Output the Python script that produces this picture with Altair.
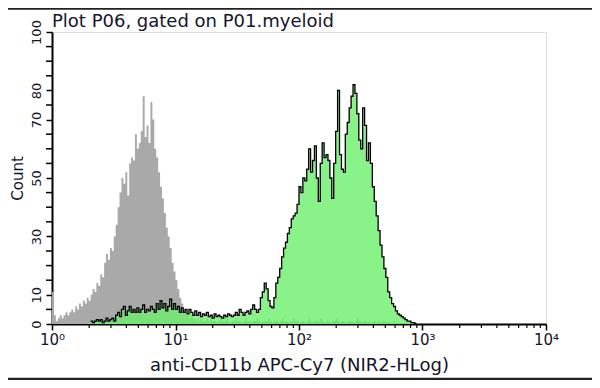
import altair as alt
import pandas as pd

# ---- data (counts per channel, 64 channels per decade) ----
CH_PER_DECADE = 64
gray_start = 0
gray_counts = [11, 3, 1, 2, 3, 2, 3, 4, 3, 4, 5, 4, 6, 5, 7, 6, 8, 7, 9, 8,
               10, 12, 11, 14, 13, 17, 16, 21, 24, 22, 26, 25, 30, 34, 40, 45, 50, 48, 52, 44,
               55, 57, 56, 65, 60, 62, 66, 78, 64, 68, 62, 76, 70, 60, 57, 52, 47, 43, 38, 33,
               30, 26, 21, 18, 15, 12, 9, 7, 5, 4, 3,
               2, 3, 2, 1, 2, 1, 2, 1, 1, 2, 1, 2, 1, 1, 0, 1, 2, 1, 1, 2,
               1, 0, 1, 1, 2, 1, 1, 0, 1, 2, 1, 1, 0, 1, 1, 2, 1, 0, 1, 1,
               1, 2, 1, 0, 1, 1, 0, 1, 2, 1, 1, 0, 1, 1, 2, 1, 1, 0, 1, 1,
               0, 1, 2, 1, 0, 1, 1, 1, 2, 1, 0, 1, 1, 0, 1, 1, 2, 1, 0, 1,
               1, 0, 1, 1, 1, 0, 1, 2, 1, 0, 1, 1, 0, 1, 0, 1, 1, 0, 1, 0,
               1, 1, 0, 1, 0, 0, 1, 0, 0, 0]
green_start = 20
green_counts = [1, 0.5, 1, 1.5, 1, 1.5, 0.5, 1, 2, 1, 1.5, 2, 1, 3, 4, 2.5, 5, 6, 3, 4.5,
                6, 4, 5, 4, 5.5, 4, 5, 6.5, 4, 5, 4.5, 6, 5, 4, 7, 5, 8, 5.5, 7, 4.5,
                6, 8.5, 5, 7, 5, 6, 4, 5.5, 4, 5, 3.5, 5, 4, 3, 4.5, 3, 4, 2.5, 3.5, 3,
                4, 2.5, 3, 2, 3.5, 2.5, 3, 2.5, 2, 3, 2.5, 3.5, 3, 2.5, 3, 4, 3, 5, 4, 3,
                4, 4.5, 3.5, 5, 6.5, 5, 4, 5, 9, 11, 14, 12, 8, 6, 5.5, 9, 14, 16, 19, 23,
                26, 28, 31, 33, 36, 37, 38, 41, 47, 45, 50, 49, 53, 60, 52, 56, 61, 50, 42, 55,
                62, 57, 58, 56, 50, 43, 55, 66, 80, 58, 53, 52, 65, 69, 74, 78, 82, 79, 72, 63,
                60, 74, 68, 56, 62, 55, 47, 42, 37, 32, 27, 23, 19, 16, 11, 9, 7, 6, 4.5, 3.5,
                3, 2.5, 2, 1.5, 1, 1, 0.5, 0.5, 0]

x_tick_values = [1, 10, 100, 1000, 10000]
x_tick_labels = ["10⁰", "10¹", "10²", "10³", "10⁴"]
x_minor_ticks = [m * d for d in [1, 10, 100, 1000] for m in range(2, 10)]
y_labelled = [0, 10, 30, 50, 70, 80, 100]
y_minor_ticks = [v for v in range(0, 101, 5) if v not in y_labelled]

title_text = "Plot P06, gated on P01.myeloid"
x_title = "anti-CD11b APC-Cy7 (NIR2-HLog)"
y_title = "Count"


def hist_frame(start, counts):
    rows = []
    for i, c in enumerate(counts):
        rows.append({"x": 10 ** ((start + i) / CH_PER_DECADE), "count": c})
    rows.append({"x": 10 ** ((start + len(counts)) / CH_PER_DECADE), "count": 0})
    return pd.DataFrame(rows)


gray_df = hist_frame(gray_start, gray_counts)
green_df = hist_frame(green_start, green_counts)

FONT = "DejaVu Sans"
TXT = "#15152a"
W, H = 494, 292

x_label_expr = " : ".join(
    f"datum.value == {v} ? '{l}'" for v, l in zip(x_tick_values, x_tick_labels)) + " : ''"

xscale = alt.Scale(type="log", domain=[1, 10000], nice=False)
yscale = alt.Scale(domain=[0, 100], nice=False)

x_enc = alt.X("x:Q", scale=xscale, axis=alt.Axis(
    values=x_tick_values, labelExpr=x_label_expr, title=x_title,
    tickSize=6, tickWidth=1.5, tickColor="black", domainWidth=2, domainColor="black",
    labelFont=FONT, labelFontSize=15, labelColor=TXT, labelPadding=2, labelFlush=False,
    labelOverlap=False,
    titleFont=FONT, titleFontSize=18, titleFontWeight="normal", titleColor=TXT, titlePadding=9,
    grid=False))
y_enc = alt.Y("count:Q", scale=yscale, axis=alt.Axis(
    values=y_labelled, title=y_title,
    tickSize=6, tickWidth=1.5, tickColor="black", domainWidth=2, domainColor="black",
    labelFont=FONT, labelFontSize=13, labelColor=TXT, labelAngle=270,
    labelAlign="center", labelBaseline="bottom", labelPadding=3, labelFlush=False,
    labelOverlap=False, labelSeparation=0,
    titleFont=FONT, titleFontSize=15, titleFontWeight="normal", titleColor=TXT, titlePadding=5,
    grid=False))

gray = alt.Chart(gray_df).mark_area(interpolate="step-after", color="#a9a9a9").encode(
    x=x_enc, y=y_enc)
green = alt.Chart(green_df).mark_area(interpolate="step-after", color="#6cef6c", opacity=0.8).encode(
    x="x:Q", y="count:Q")
outline = alt.Chart(green_df).mark_line(interpolate="step-after", color="black", strokeWidth=1.3).encode(
    x="x:Q", y="count:Q")

minor_df = pd.DataFrame({"x": x_minor_ticks})
minor = alt.Chart(minor_df).mark_rule(color="black", strokeWidth=1.2).encode(
    x="x:Q", y=alt.value(H), y2=alt.value(H + 4))

yminor_df = pd.DataFrame({"count": y_minor_ticks})
yminor = alt.Chart(yminor_df).mark_rule(color="black", strokeWidth=1.5).encode(
    y="count:Q", x=alt.value(-6), x2=alt.value(0))

border_df = pd.DataFrame({"pos": ["top", "bottom"], "y": [-23.5, 347.0]})
borders = alt.Chart(border_df).mark_rule(color="#222", strokeWidth=2.5).encode(
    x=alt.value(-44), x2=alt.value(540), y=alt.Y("y:Q", scale=None))

title_df = pd.DataFrame({"t": [title_text]})
title = alt.Chart(title_df).mark_text(
    align="left", baseline="alphabetic", font=FONT, fontSize=18, color=TXT).encode(
    x=alt.value(0), y=alt.value(-5), text="t:N")

chart = alt.layer(gray, green, outline, minor, yminor, borders, title).properties(
    width=W, height=H,
    autosize=alt.AutoSizeParams(type="none"),
    padding={"left": 44, "top": 24, "right": 46, "bottom": 56},
).configure_view(stroke="#222", strokeWidth=1.5).configure_axis(
    labelOverlap=False).configure(background="white")

chart.save("out.html", embed_options={"renderer": "svg", "actions": False})
